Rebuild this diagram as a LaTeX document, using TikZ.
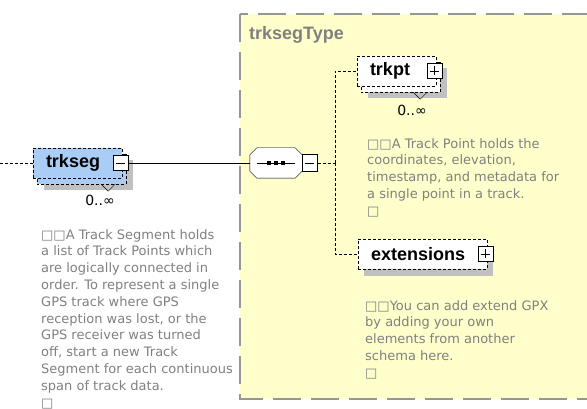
\documentclass[tikz,border=0pt]{standalone}
\usepackage{fontspec}
\setmainfont{DejaVu Sans}
\newfontfamily\boldlabel{Liberation Sans}

\pgfdeclarelayer{back}
\pgfsetlayers{back,main}

\definecolor{typefill}{RGB}{255,255,204}
\definecolor{typeline}{RGB}{150,150,150}
\definecolor{elemblue}{RGB}{170,205,245}
\definecolor{shadowgray}{RGB}{192,192,192}
\definecolor{notegray}{RGB}{128,128,128}

\tikzset{
  typebox/.style={fill=typefill, draw=typeline, line width=2pt, dash pattern=on 28pt off 10pt},
  typename/.style={anchor=west, inner sep=0pt, text=notegray, font=\boldlabel\bfseries\fontsize{18}{20}\selectfont},
  elem/.style={draw, dash pattern=on 3pt off 2pt, minimum height=30pt, inner xsep=13pt, inner ysep=0pt, align=left, font=\boldlabel\bfseries\fontsize{18}{20}\selectfont},
  stackbox/.style={draw, dash pattern=on 3pt off 2pt},
  pmbox/.style={draw, solid, fill=white, minimum width=15pt, minimum height=15pt, inner sep=0pt},
  minusbox/.style={pmbox, path picture={
      \draw ([xshift=3pt]path picture bounding box.west) -- ([xshift=-3pt]path picture bounding box.east);}},
  plusbox/.style={pmbox, path picture={
      \draw ([xshift=3pt]path picture bounding box.west) -- ([xshift=-3pt]path picture bounding box.east);
      \draw ([yshift=3pt]path picture bounding box.south) -- ([yshift=-3pt]path picture bounding box.north);}},
  seqbox/.style={minimum width=52pt, minimum height=30pt, inner sep=0pt},
  dashline/.style={dash pattern=on 3pt off 2pt},
  occurs/.style={inner sep=0pt, font=\fontsize{14}{16}\selectfont},
  note/.style={anchor=north west, inner sep=0pt, align=left, text=notegray, font=\fontsize{13}{16.8}\selectfont}
}

\begin{document}
\begin{tikzpicture}[x=1pt, y=-1pt, line width=1pt]
  \useasboundingbox (0,0) rectangle (587,409);

  % type area
  \begin{pgfonlayer}{back}
    \draw[typebox] (240,14) rectangle (600,399);
  \end{pgfonlayer}
  \node[typename] (typename) at (249,35) {trksegType};

  % elements
  \node[elem, fill=elemblue, text width=63pt] (trkseg) at (77.5,163) {trkseg};
  \node[elem, fill=white, text width=53pt] (trkpt) at (396.5,71) {trkpt};
  \node[elem, fill=white, text width=103pt] (ext) at (422.5,254) {extensions};

  \node[minusbox] (trksegMinus) at ([xshift=-2pt]trkseg.east) {};
  \node[plusbox] (trkptPlus) at ([xshift=-2pt]trkpt.east) {};
  \node[plusbox] (extPlus) at ([xshift=-2pt]ext.east) {};

  % sequence
  \node[seqbox] (seq) at (276,163) {};
  \draw[fill=white] ([xshift=7pt]seq.north west) -- ([xshift=-7pt]seq.north east)
    -- ([yshift=-7pt]seq.north east) -- ([yshift=7pt]seq.south east)
    -- ([xshift=-7pt]seq.south east) -- ([xshift=7pt]seq.south west)
    -- ([yshift=7pt]seq.south west) -- ([yshift=-7pt]seq.north west) -- cycle;
  \draw ([xshift=7pt]seq.west) -- ([xshift=-7pt]seq.east);
  \foreach \dx in {-7,0,7}
    \fill ([xshift=\dx pt]seq.center) +(-2,-2) rectangle +(2,2);
  \node[minusbox, minimum height=17pt, anchor=west] (seqMinus) at (seq.east) {};

  % shadows, stacked copies
  \begin{pgfonlayer}{back}
    \fill[shadowgray] ([shift={(11,12)}]trkseg.north west) rectangle ([shift={(11,12)}]trkseg.south east);
    \draw[stackbox, fill=elemblue] ([shift={(4,6)}]trkseg.north west) rectangle ([shift={(4,6)}]trkseg.south east);
    \fill[shadowgray] ([shift={(11,12)}]trkpt.north west) rectangle ([shift={(11,12)}]trkpt.south east);
    \draw[stackbox, fill=white] ([shift={(4,6)}]trkpt.north west) rectangle ([shift={(4,6)}]trkpt.south east);
    \fill[shadowgray] ([shift={(6,7)}]ext.north west) rectangle ([shift={(6,7)}]ext.south east);
    \begin{scope}[shift={(8,5)}]
      \fill[shadowgray] ([xshift=7pt]seq.north west) -- ([xshift=-7pt]seq.north east)
        -- ([yshift=-7pt]seq.north east) -- ([yshift=7pt]seq.south east)
        -- ([xshift=-7pt]seq.south east) -- ([xshift=7pt]seq.south west)
        -- ([yshift=7pt]seq.south west) -- ([yshift=-7pt]seq.north west) -- cycle;
    \end{scope}
  \end{pgfonlayer}

  % connectors
  \coordinate (lead) at (0,163);
  \coordinate (fork) at (335,163);
  \draw[dashline] (lead) -- (trkseg);
  \draw (trksegMinus) -- (seq);
  \draw[dashline] (seqMinus) -- (fork);
  \draw[dashline] (fork) |- (trkpt);
  \draw[dashline] (fork) |- (ext);

  % occurrences
  \draw ([shift={(-21,6)}]trkseg.south east) -- ++(7,7) -- ++(7,-7);
  \draw ([shift={(-23,6)}]trkpt.south east) -- ++(7,7) -- ++(7,-7);
  \node[occurs] (trksegOccurs) at (100,200) {0..∞};
  \node[occurs] (trkptOccurs) at (412,110) {0..∞};

  % documentation
  \node[note] (trksegNote) at (41,229) {□□A Track Segment holds\\a list of Track Points which\\are logically connected in\\order. To represent a single\\GPS track where GPS\\reception was lost, or the\\GPS receiver was turned\\off, start a new Track\\Segment for each continuous\\span of track data.\\□};
  \node[note] (trkptNote) at (367,138) {□□A Track Point holds the\\coordinates, elevation,\\timestamp, and metadata for\\a single point in a track.\\□};
  \node[note] (extNote) at (365,300) {□□You can add extend GPX\\by adding your own\\elements from another\\schema here.\\□};
\end{tikzpicture}
\end{document}
